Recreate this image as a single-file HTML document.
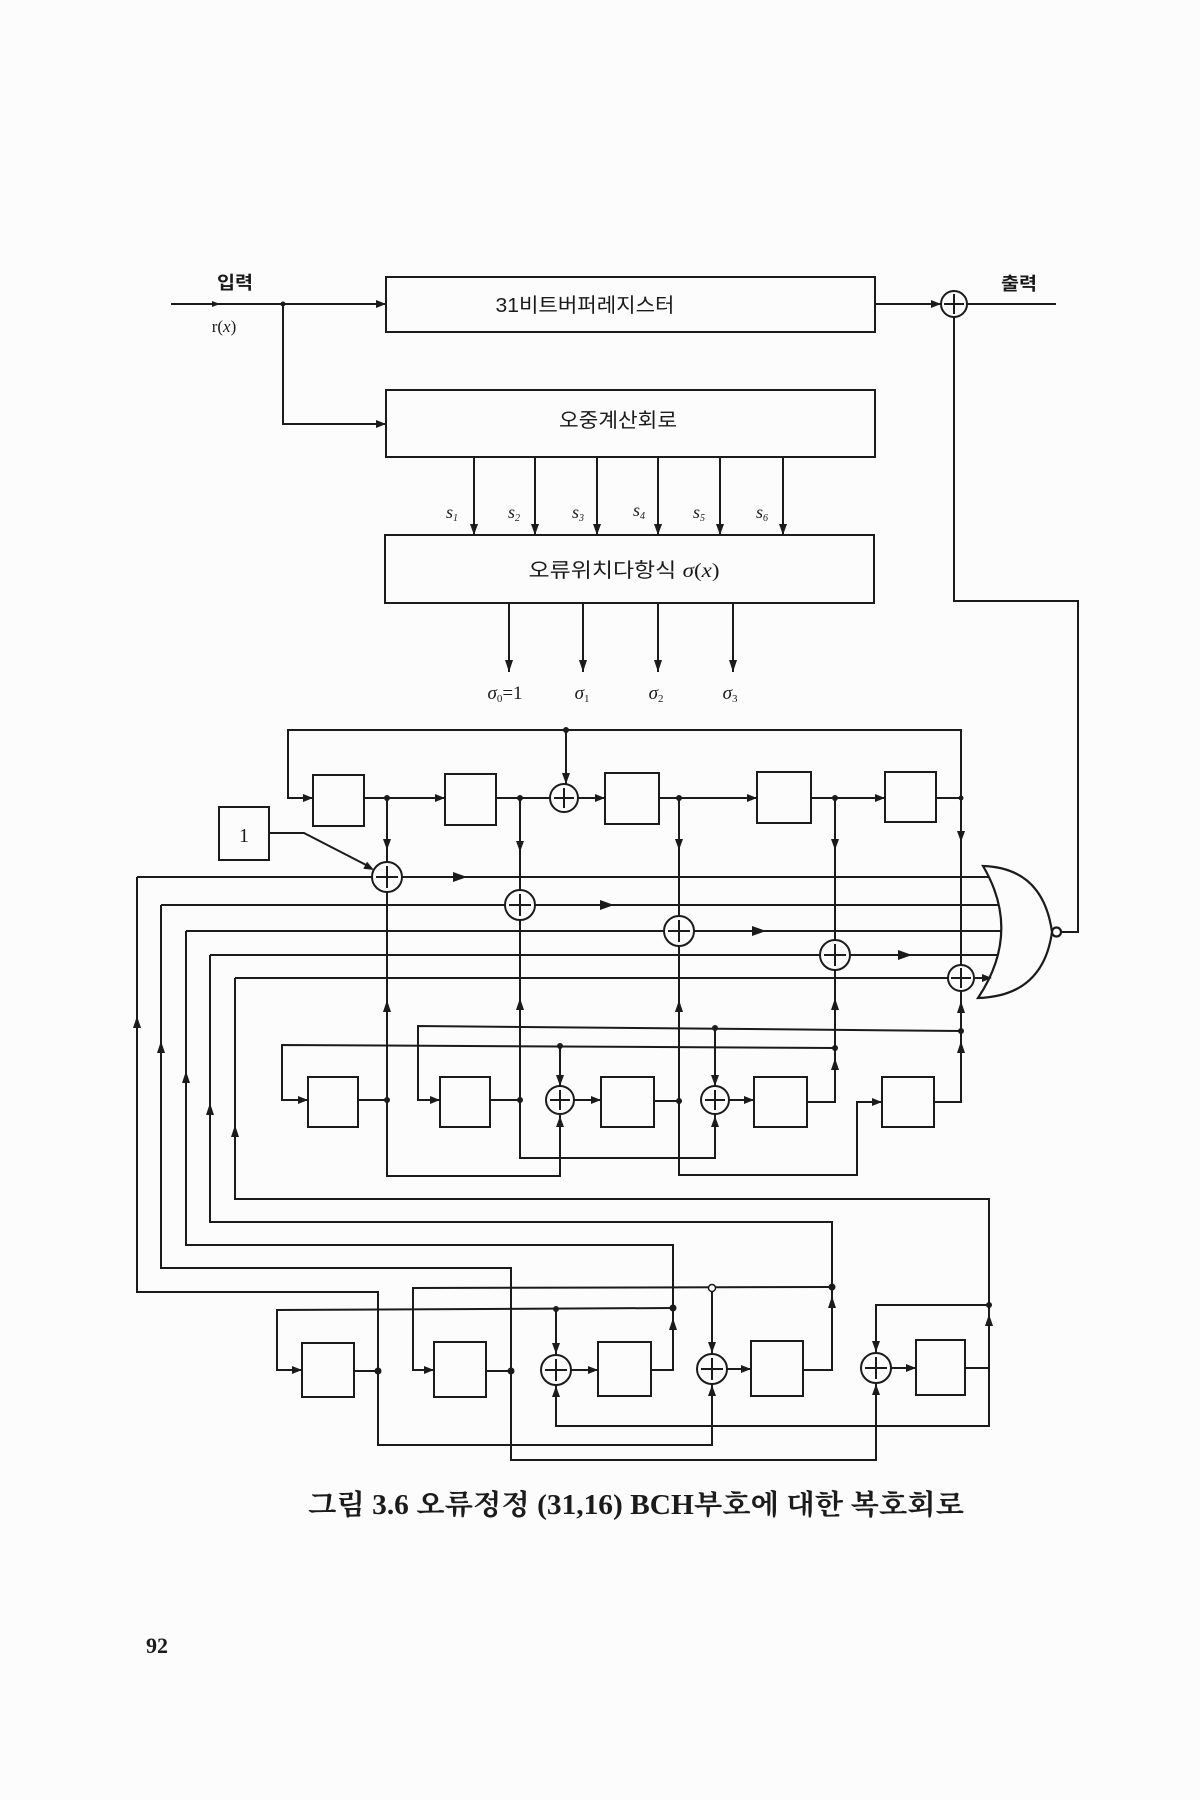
<!DOCTYPE html>
<html>
<head>
<meta charset="utf-8">
<style>
  html,body{margin:0;padding:0;background:#fcfcfc;}
  svg{display:block;}
  .k{font-family:"Liberation Sans","Noto Sans CJK KR",sans-serif;fill:#1b1b1b;}
  .s{font-family:"Liberation Serif","Noto Serif CJK SC",serif;fill:#1b1b1b;}
</style>
</head>
<body>
<svg width="1200" height="1800" viewBox="0 0 1200 1800" xmlns="http://www.w3.org/2000/svg">
<rect width="1200" height="1800" fill="#fcfcfc"/>

<!-- ============ TOP SECTION ============ -->
<g stroke="#1b1b1b" stroke-width="2" fill="none">
  <path d="M171,304 H386"/>
  <path d="M283,304 V424 H386"/>
  <rect x="386" y="277" width="489" height="55"/>
  <rect x="386" y="390" width="489" height="67"/>
  <rect x="385" y="535" width="489" height="68"/>
  <path d="M875,304 H941"/>
  <path d="M967,304 H1056"/>
  <path d="M954,317 V601 H1078 V932 H1061"/>
  <!-- syndrome lines -->
  <path d="M474,457 V535 M535,457 V535 M597,457 V535 M658,457 V535 M720,457 V535 M783,457 V535"/>
  <!-- sigma outputs -->
  <path d="M509,603 V672 M583,603 V672 M658,603 V672 M733,603 V672"/>
  <!-- output xor -->
  <circle cx="954" cy="304" r="13" fill="#fcfcfc"/>
  <path d="M954,294 V314 M944,304 H964"/>
</g>
<g fill="#1b1b1b">
  <circle cx="283" cy="304" r="2.5"/>
  <polygon points="386,304 376,300 376,308"/>
  <polygon points="386,424 376,420 376,428"/>
  <polygon points="220,304 212,301 212,307"/>
  <polygon points="941,304 931,300 931,308"/>
  <polygon points="474,535 470,524 478,524"/>
  <polygon points="535,535 531,524 539,524"/>
  <polygon points="597,535 593,524 601,524"/>
  <polygon points="658,535 654,524 662,524"/>
  <polygon points="720,535 716,524 724,524"/>
  <polygon points="783,535 779,524 787,524"/>
  <polygon points="509,672 505,660 513,660"/>
  <polygon points="583,672 579,660 587,660"/>
  <polygon points="658,672 654,660 662,660"/>
  <polygon points="733,672 729,660 737,660"/>
</g>

<!-- top labels -->
<text class="k" x="235" y="289" font-size="18" font-weight="bold" text-anchor="middle" textLength="36" lengthAdjust="spacingAndGlyphs">입력</text>
<text class="k" x="1019" y="290" font-size="18" font-weight="bold" text-anchor="middle" textLength="36" lengthAdjust="spacingAndGlyphs">출력</text>
<text class="s" x="224" y="332" font-size="17" text-anchor="middle">r(<tspan font-style="italic">x</tspan>)</text>
<text class="k" x="585" y="312" font-size="20" text-anchor="middle" textLength="179" lengthAdjust="spacingAndGlyphs">31비트버퍼레지스터</text>
<text class="k" x="618" y="427" font-size="20" text-anchor="middle" textLength="118" lengthAdjust="spacingAndGlyphs">오중계산회로</text>
<text class="k" x="624" y="577" font-size="20" text-anchor="middle" textLength="191" lengthAdjust="spacingAndGlyphs">오류위치다항식 <tspan font-family="Liberation Serif" font-style="italic">σ</tspan><tspan font-family="Liberation Serif">(</tspan><tspan font-family="Liberation Serif" font-style="italic">x</tspan><tspan font-family="Liberation Serif">)</tspan></text>

<g class="s" font-size="18" font-style="italic" text-anchor="middle">
  <text x="452" y="518">s<tspan font-size="10" dy="3">1</tspan></text>
  <text x="514" y="518">s<tspan font-size="10" dy="3">2</tspan></text>
  <text x="578" y="518">s<tspan font-size="10" dy="3">3</tspan></text>
  <text x="639" y="516">s<tspan font-size="10" dy="3">4</tspan></text>
  <text x="699" y="518">s<tspan font-size="10" dy="3">5</tspan></text>
  <text x="762" y="518">s<tspan font-size="10" dy="3">6</tspan></text>
</g>
<g class="s" font-size="19" text-anchor="middle">
  <text x="505" y="699"><tspan font-style="italic">σ</tspan><tspan font-size="11" dy="3">0</tspan><tspan dy="-3">=1</tspan></text>
  <text x="582" y="699"><tspan font-style="italic">σ</tspan><tspan font-size="11" dy="3">1</tspan></text>
  <text x="656" y="699"><tspan font-style="italic">σ</tspan><tspan font-size="11" dy="3">2</tspan></text>
  <text x="730" y="699"><tspan font-style="italic">σ</tspan><tspan font-size="11" dy="3">3</tspan></text>
</g>

<!-- ============ ROW 1 ============ -->
<g stroke="#1b1b1b" stroke-width="2" fill="none">
  <path d="M961,798 V730 H288 V798 H313"/>
  <path d="M364,798 H445"/>
  <path d="M496,798 H550"/>
  <path d="M578,798 H605"/>
  <path d="M566,730 V784"/>
  <path d="M659,798 H757"/>
  <path d="M811,798 H885"/>
  <path d="M936,798 H961"/>
  <rect x="313" y="775" width="51" height="51"/>
  <rect x="445" y="774" width="51" height="51"/>
  <rect x="605" y="773" width="54" height="51"/>
  <rect x="757" y="772" width="54" height="51"/>
  <rect x="885" y="772" width="51" height="50"/>
  <!-- verticals down to xors -->
  <path d="M387,798 V862"/>
  <path d="M520,798 V890"/>
  <path d="M679,798 V916"/>
  <path d="M835,798 V940"/>
  <path d="M961,798 V965"/>
  <!-- "1" box -->
  <rect x="219" y="807" width="50" height="53"/>
  <path d="M269,833 H304 L370,867"/>
  <!-- horizontal lines to gate -->
  <path d="M137,877 H372 M402,877 H995"/>
  <path d="M161,905 H505 M535,905 H1000"/>
  <path d="M186,931 H664 M694,931 H1006"/>
  <path d="M210,955 H820 M850,955 H1002"/>
  <path d="M235,978 H948 M974,978 H995"/>
</g>
<text class="s" x="244" y="842" font-size="20" text-anchor="middle">1</text>

<!-- XORs row1 and row1.5 -->
<g stroke="#1b1b1b" stroke-width="2" fill="#fcfcfc">
  <circle cx="564" cy="798" r="14"/>
  <circle cx="387" cy="877" r="15"/>
  <circle cx="520" cy="905" r="15"/>
  <circle cx="679" cy="931" r="15"/>
  <circle cx="835" cy="955" r="15"/>
  <circle cx="961" cy="978" r="13"/>
</g>
<g stroke="#1b1b1b" stroke-width="2" fill="none">
  <path d="M564,788 V808 M554,798 H574"/>
  <path d="M387,866 V888 M376,877 H398"/>
  <path d="M520,894 V916 M509,905 H531"/>
  <path d="M679,920 V942 M668,931 H690"/>
  <path d="M835,944 V966 M824,955 H846"/>
  <path d="M961,968 V988 M951,978 H971"/>
</g>

<!-- NOR gate -->
<g stroke="#1b1b1b" stroke-width="2.2" fill="#fcfcfc">
  <path d="M983,866 Q1043,868 1052,932 Q1043,996 978,998 Q1022,932 983,866 Z"/>
  <circle cx="1056.5" cy="932" r="4.5"/>
</g>

<g fill="#1b1b1b">
  <polygon points="313,798 303,794 303,802"/>
  <polygon points="445,798 435,794 435,802"/>
  <polygon points="605,798 595,794 595,802"/>
  <polygon points="757,798 747,794 747,802"/>
  <polygon points="885,798 875,794 875,802"/>
  <polygon points="566,784 562,773 570,773"/>
  <circle cx="387" cy="798" r="3"/>
  <circle cx="520" cy="798" r="3"/>
  <circle cx="679" cy="798" r="3"/>
  <circle cx="835" cy="798" r="3"/>
  <circle cx="961" cy="798" r="2.5"/>
  <circle cx="566" cy="730" r="3"/>
  <polygon points="387,850 383,839 391,839"/>
  <polygon points="520,852 516,841 524,841"/>
  <polygon points="679,850 675,839 683,839"/>
  <polygon points="835,850 831,839 839,839"/>
  <polygon points="961,842 957,831 965,831"/>
  <polygon points="374,870 363.3,868.8 367.1,861.8"/>
  <polygon points="467,877 453,872 453,882"/>
  <polygon points="614,905 600,900 600,910"/>
  <polygon points="766,931 752,926 752,936"/>
  <polygon points="912,955 898,950 898,960"/>
  <polygon points="992,978 982,974 982,982"/>
</g>

<!-- ============ LEFT VERTICALS ============ -->
<g stroke="#1b1b1b" stroke-width="2" fill="none">
  <path d="M137,877 V1292 H378 V1371"/>
  <path d="M161,905 V1268 H511 V1371"/>
  <path d="M186,931 V1245 H673 V1370 H651"/>
  <path d="M210,955 V1222 H832 V1370 H803"/>
  <path d="M235,978 V1199 H989 V1426 H556 V1385"/>
  <path d="M965,1368 H989"/>
</g>
<g fill="#1b1b1b">
  <polygon points="137,1016 133,1028 141,1028"/>
  <polygon points="161,1041 157,1053 165,1053"/>
  <polygon points="186,1071 182,1083 190,1083"/>
  <polygon points="210,1103 206,1115 214,1115"/>
  <polygon points="235,1125 231,1137 239,1137"/>
</g>

<!-- ============ ROW 2 ============ -->
<g stroke="#1b1b1b" stroke-width="2" fill="none">
  <path d="M807,1102 H835 V970"/>
  <path d="M835,1048 L282,1045 V1100 H308"/>
  <path d="M560,1046 V1086"/>
  <rect x="308" y="1077" width="50" height="50"/>
  <path d="M358,1100 H387"/>
  <path d="M387,892 V1176 H560 V1114"/>
  <path d="M961,1031 L418,1026 V1100 H440"/>
  <path d="M715,1028 V1086"/>
  <rect x="440" y="1077" width="50" height="50"/>
  <path d="M490,1100 H520"/>
  <path d="M520,920 V1158 H715 V1114"/>
  <path d="M574,1100 H601"/>
  <rect x="601" y="1077" width="53" height="50"/>
  <path d="M654,1101 H679"/>
  <path d="M679,946 V1175 H857 V1102 H882"/>
  <path d="M729,1100 H754"/>
  <rect x="754" y="1077" width="53" height="50"/>
  <rect x="882" y="1077" width="52" height="50"/>
  <path d="M934,1102 H961 V991"/>
  <circle cx="560" cy="1100" r="14" fill="#fcfcfc"/>
  <circle cx="715" cy="1100" r="14" fill="#fcfcfc"/>
  <path d="M560,1090 V1110 M550,1100 H570"/>
  <path d="M715,1090 V1110 M705,1100 H725"/>
</g>
<g fill="#1b1b1b">
  <circle cx="835" cy="1048" r="3"/>
  <circle cx="560" cy="1046" r="3"/>
  <circle cx="961" cy="1031" r="3"/>
  <circle cx="715" cy="1028" r="3"/>
  <circle cx="387" cy="1100" r="3"/>
  <circle cx="520" cy="1100" r="3"/>
  <circle cx="679" cy="1101" r="3"/>
  <polygon points="308,1100 298,1096 298,1104"/>
  <polygon points="440,1100 430,1096 430,1104"/>
  <polygon points="601,1100 591,1096 591,1104"/>
  <polygon points="754,1100 744,1096 744,1104"/>
  <polygon points="882,1102 872,1098 872,1106"/>
  <polygon points="560,1086 556,1075 564,1075"/>
  <polygon points="715,1086 711,1075 719,1075"/>
  <polygon points="560,1116 556,1127 564,1127"/>
  <polygon points="715,1116 711,1127 719,1127"/>
  <polygon points="387,1000 383,1012 391,1012"/>
  <polygon points="520,998 516,1010 524,1010"/>
  <polygon points="679,1000 675,1012 683,1012"/>
  <polygon points="835,998 831,1010 839,1010"/>
  <polygon points="835,1058 831,1070 839,1070"/>
  <polygon points="961,1001 957,1013 965,1013"/>
  <polygon points="961,1041 957,1053 965,1053"/>
</g>

<!-- ============ ROW 3 ============ -->
<g stroke="#1b1b1b" stroke-width="2" fill="none">
  <path d="M673,1308 L277,1310 V1370 H302"/>
  <path d="M556,1309 V1355"/>
  <rect x="302" y="1343" width="52" height="54"/>
  <path d="M354,1371 H378"/>
  <path d="M378,1371 V1445 H712 V1384"/>
  <path d="M832,1287 L413,1288 V1370 H434"/>
  <path d="M712,1292 V1354"/>
  <rect x="434" y="1342" width="52" height="55"/>
  <path d="M486,1371 H511"/>
  <path d="M511,1371 V1460 H876 V1383"/>
  <path d="M571,1370 H598"/>
  <rect x="598" y="1342" width="53" height="54"/>
  <path d="M727,1369 H751"/>
  <rect x="751" y="1341" width="52" height="55"/>
  <path d="M891,1368 H916"/>
  <path d="M989,1305 H876 V1353"/>
  <rect x="916" y="1340" width="49" height="55"/>
  <circle cx="556" cy="1370" r="15" fill="#fcfcfc"/>
  <circle cx="712" cy="1369" r="15" fill="#fcfcfc"/>
  <circle cx="876" cy="1368" r="15" fill="#fcfcfc"/>
  <path d="M556,1359 V1381 M545,1370 H567"/>
  <path d="M712,1358 V1380 M701,1369 H723"/>
  <path d="M876,1357 V1379 M865,1368 H887"/>
  <circle cx="712" cy="1288" r="3.5" fill="#fcfcfc" stroke-width="1.5"/>
</g>
<g fill="#1b1b1b">
  <circle cx="673" cy="1308" r="3.5"/>
  <circle cx="556" cy="1309" r="3"/>
  <circle cx="832" cy="1287" r="3.5"/>
  <circle cx="378" cy="1371" r="3.5"/>
  <circle cx="511" cy="1371" r="3.5"/>
  <circle cx="989" cy="1305" r="3"/>
  <polygon points="302,1370 292,1366 292,1374"/>
  <polygon points="434,1370 424,1366 424,1374"/>
  <polygon points="598,1370 588,1366 588,1374"/>
  <polygon points="751,1369 741,1365 741,1373"/>
  <polygon points="916,1368 906,1364 906,1372"/>
  <polygon points="556,1354 552,1343 560,1343"/>
  <polygon points="712,1353 708,1342 716,1342"/>
  <polygon points="876,1352 872,1341 880,1341"/>
  <polygon points="556,1386 552,1397 560,1397"/>
  <polygon points="712,1385 708,1396 716,1396"/>
  <polygon points="876,1384 872,1395 880,1395"/>
  <polygon points="673,1318 669,1330 677,1330"/>
  <polygon points="832,1296 828,1308 836,1308"/>
  <polygon points="989,1314 985,1326 993,1326"/>
</g>

<!-- caption -->
<text x="636" y="1514" font-family="'Liberation Serif','Noto Serif CJK SC',serif" font-size="28" font-weight="bold" fill="#1b1b1b" text-anchor="middle" textLength="656" lengthAdjust="spacingAndGlyphs">그림 3.6 오류정정 (31,16) BCH부호에 대한 복호회로</text>
<text x="157" y="1653" font-family="'Liberation Serif',serif" font-size="22" font-weight="bold" fill="#1b1b1b" text-anchor="middle">92</text>
</svg>
</body>
</html>
